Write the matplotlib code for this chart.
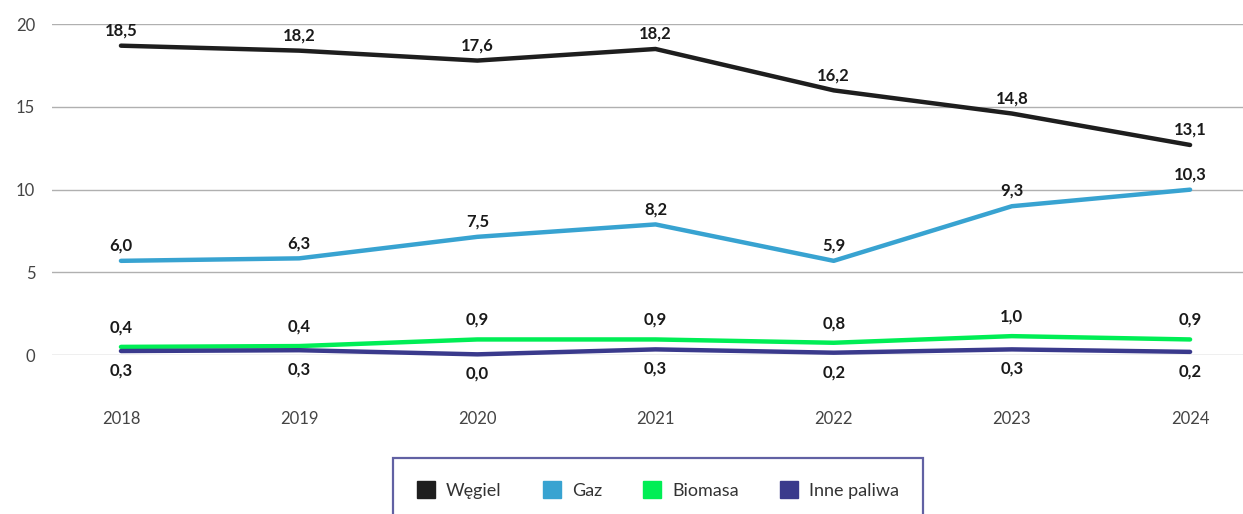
import matplotlib.pyplot as plt

# data
years = ['2018', '2019', '2020', '2021', '2022', '2023', '2024']
wegiel = [18.7, 18.4, 17.8, 18.5, 16.0, 14.6, 12.7]
gaz = [5.7, 5.85, 7.15, 7.9, 5.7, 9.0, 10.0]
biomasa = [0.5, 0.55, 0.95, 0.95, 0.75, 1.15, 0.95]
inne = [0.25, 0.3, 0.05, 0.35, 0.15, 0.35, 0.2]
wegiel_lab = ['18,5', '18,2', '17,6', '18,2', '16,2', '14,8', '13,1']
gaz_lab = ['6,0', '6,3', '7,5', '8,2', '5,9', '9,3', '10,3']
biomasa_lab = ['0,4', '0,4', '0,9', '0,9', '0,8', '1,0', '0,9']
inne_lab = ['0,3', '0,3', '0,0', '0,3', '0,2', '0,3', '0,2']

series = [
    ('Węgiel', wegiel, wegiel_lab, '#1e1e1e', 11),
    ('Gaz', gaz, gaz_lab, '#38a3d1', 11),
    ('Biomasa', biomasa, biomasa_lab, '#00ee55', 14),
    ('Inne paliwa', inne, inne_lab, '#3a3a8c', -14),
]

plt.rcParams['font.family'] = ['Lato', 'DejaVu Sans']

fig = plt.figure(figsize=(12.43, 5.14), dpi=100)
ax = fig.add_axes([52 / 1243, 0.309, 1 - 52 / 1243, 0.644])

x = list(range(len(years)))
handles = []
for name, vals, labs, col, off in series:
    ax.plot(x, vals, color=col, lw=3.2, solid_capstyle='round', clip_on=False, zorder=3)
    handles.append(plt.Rectangle((0, 0), 1, 1, color=col, label=name))
    for xi, v, t in zip(x, vals, labs):
        ax.annotate(t, (xi, v), xytext=(0, off), textcoords='offset points',
                    ha='center', va='center', fontsize=12, fontweight='bold',
                    color='#1a1a1a', annotation_clip=False)

ax.set_xlim(-0.387, 6.297)
ax.set_ylim(0, 20)
ax.set_yticks([0, 5, 10, 15, 20])
ax.set_xticks(x)
ax.set_xticklabels(years)
ax.yaxis.grid(True, color='#b0b0b0', lw=1)
ax.set_axisbelow(True)
for s in ax.spines.values():
    s.set_visible(False)
ax.tick_params(axis='both', length=0, labelsize=12, labelcolor='#444444')
ax.tick_params(axis='x', pad=40)
ax.tick_params(axis='y', pad=12)

leg = fig.legend(handles=handles, loc='upper center', bbox_to_anchor=(658 / 1243, 1 - 458 / 514),
                 ncol=4, frameon=True, fancybox=False, fontsize=13,
                 handlelength=1.0, handleheight=1.0, handletextpad=0.6, columnspacing=2.3,
                 borderpad=1.3, borderaxespad=0, labelcolor='#333333')
leg.get_frame().set_edgecolor('#3a3a8c')
leg.get_frame().set_linewidth(1.6)

fig.savefig('out.png', dpi=100)
